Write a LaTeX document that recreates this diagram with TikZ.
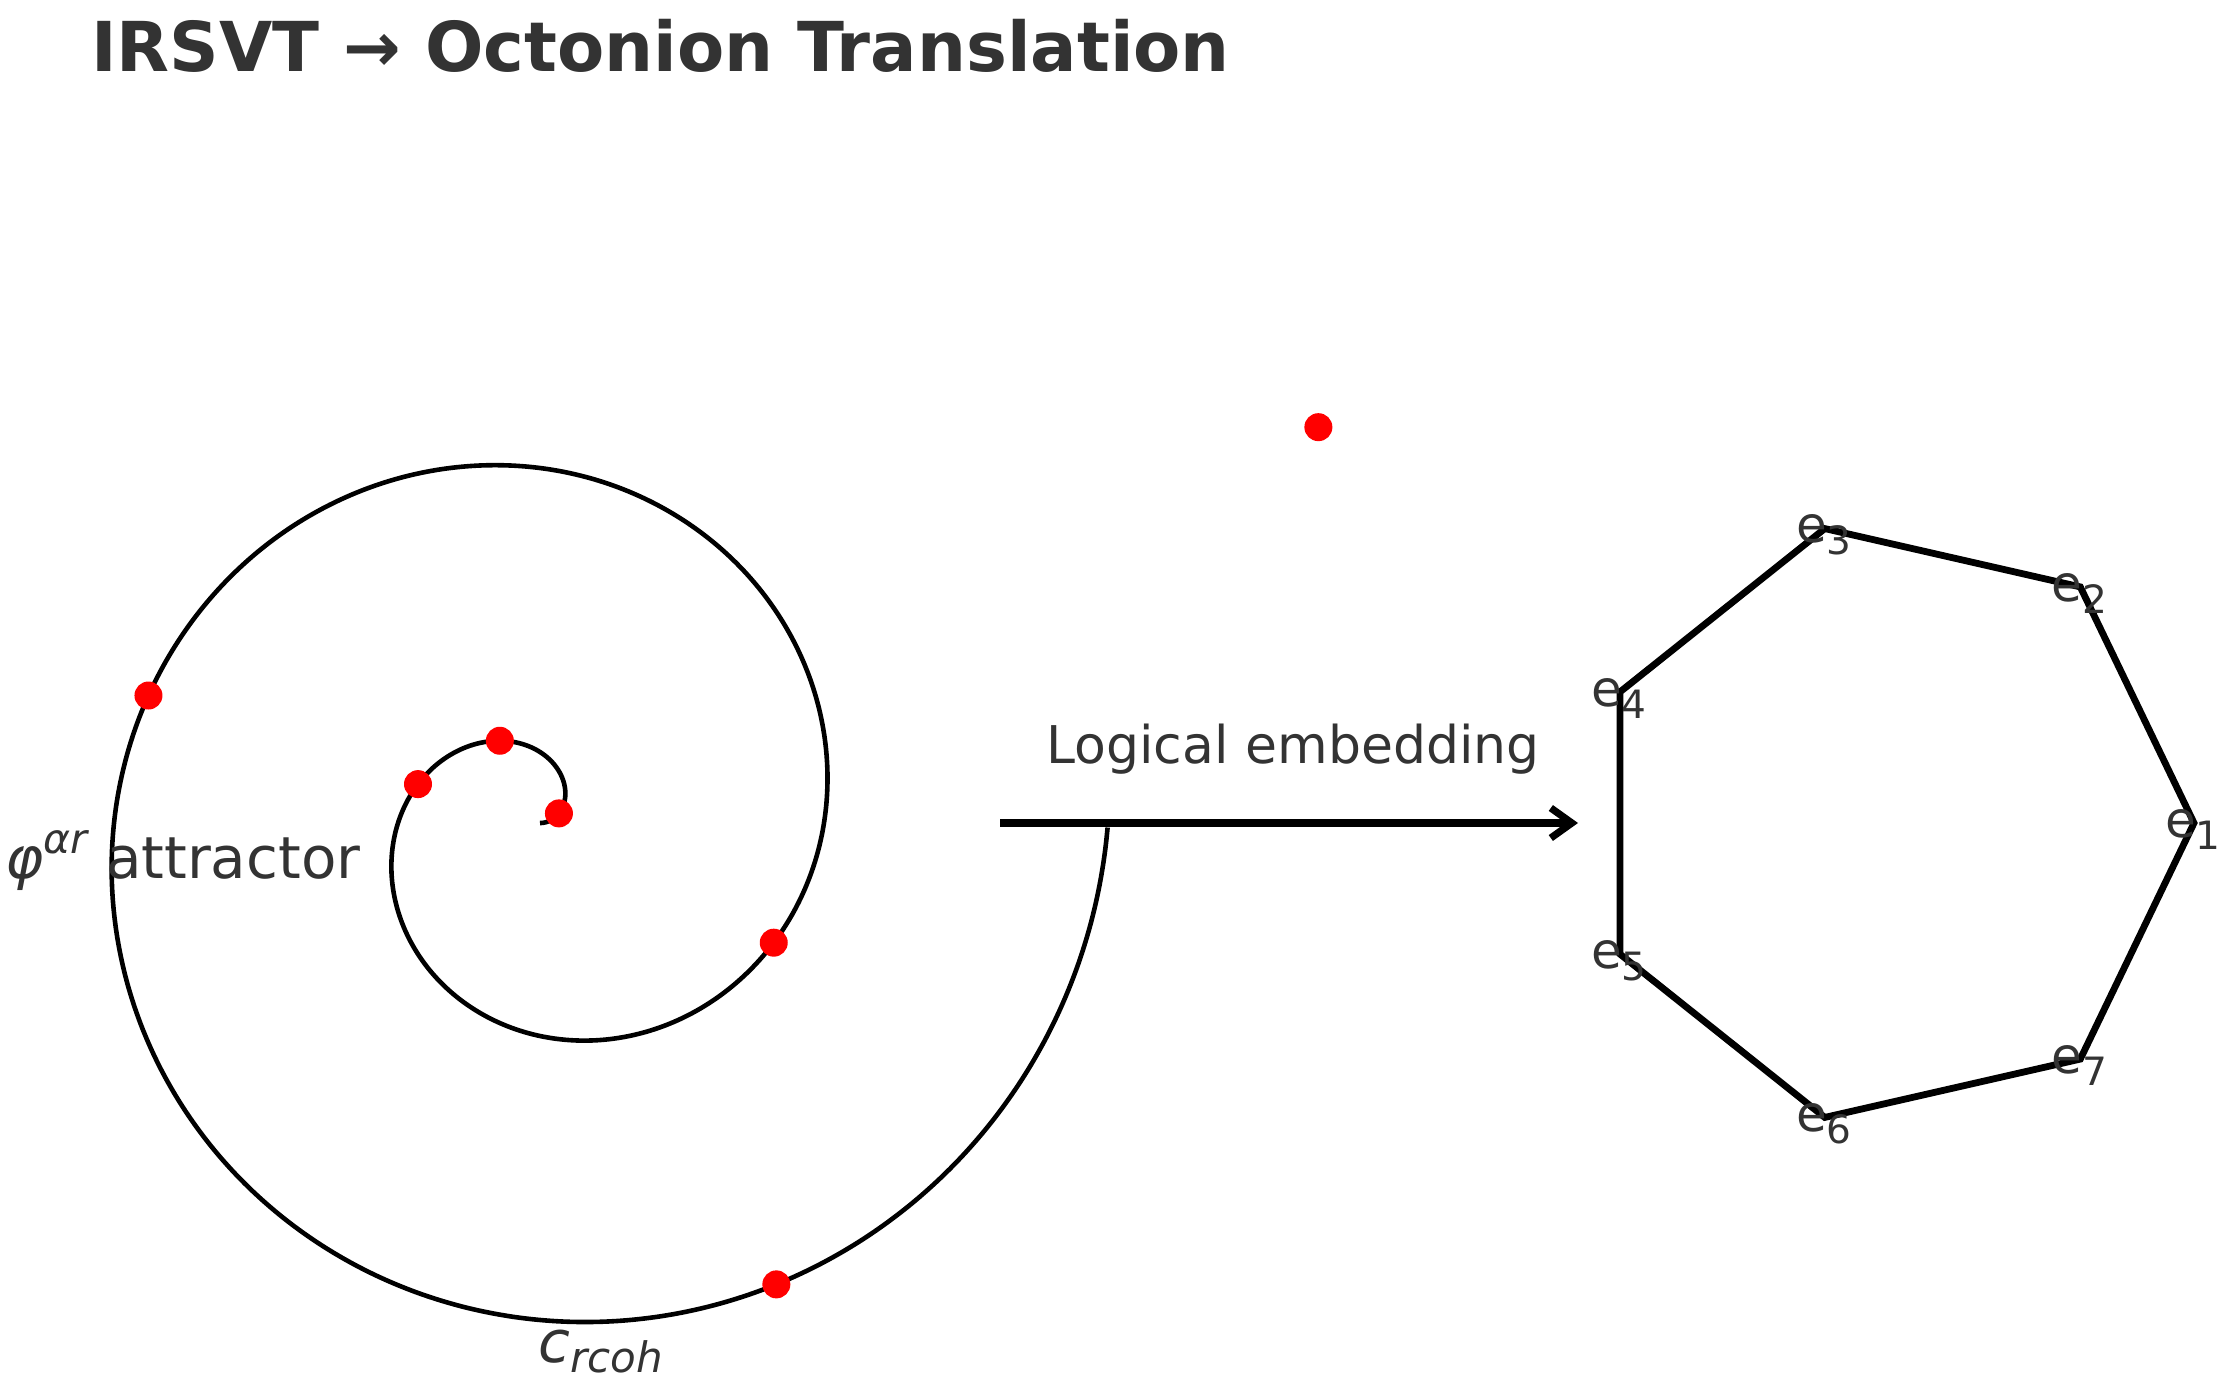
\documentclass[tikz,border=0pt]{standalone}
\usepackage{fontspec}
\setmainfont{DejaVu Sans}
\usetikzlibrary{arrows.meta}
\definecolor{txt}{HTML}{333333}
\begin{document}
\begin{tikzpicture}[x=0.5pt,y=-0.5pt,
  lbl/.style={text=txt, inner sep=0pt},
  elbl/.style={text=txt, inner sep=0pt, anchor=center, yshift=-3.2pt, xshift=-0.5pt, font=\fontsize{25}{30}\selectfont},
  dotmark/.style={fill=red},
  spiralline/.style={line width=2.3pt, line join=round},
  heptline/.style={line width=3.4pt},
  arrowline/.style={line width=3.6pt, -{Straight Barb[length=10.5pt,width=15pt]}}]
\useasboundingbox (0,0) rectangle (2240,1397);
% title
\node[lbl, anchor=base west, font=\fontsize{34.4}{41}\selectfont\bfseries] (title) at (91,71.5) {IRSVT → Octonion Translation};
% spiral
\draw[spiralline] plot[domain=0:12.5664, samples=600, smooth] ({540+45.2*\x*cos(\x r)},{823-45.2*\x*sin(\x r)});
% dots
\foreach \tv/\nm in {0.47/d1, 2.025/d2, 2.833/d3, 5.81/d4, 9.11/d5, 11.469/d6, 19.32/d7} {
  \coordinate (\nm) at ({540+45.2*\tv*cos(\tv r)},{823-45.2*\tv*sin(\tv r)});
  \fill[dotmark] (\nm) circle[radius=7pt];
}
% labels of spiral
\node[lbl, anchor=base, font=\fontsize{29}{35}\selectfont] (attr) at (183,878) {{\itshape φ}\raisebox{12.5pt}{\fontsize{20.5}{24}\selectfont\itshape αr} attractor};
\node[lbl, anchor=base, font=\fontsize{29}{35}\selectfont\itshape] (coh) at (601,1362) {c\raisebox{-5pt}{\fontsize{21}{25}\selectfont rcoh}};
% arrow
\coordinate (as) at (1000,823);
\coordinate (ae) at (1578,823);
\draw[arrowline] (as) -- (ae);
\node[lbl, anchor=base, font=\fontsize{26}{31}\selectfont] (emb) at (1293,763) {Logical embedding};
% heptagon
\foreach \i in {1,...,7} {
  \coordinate (v\i) at ({1892+302*cos((\i-1)*360/7)},{823-302*sin((\i-1)*360/7)});
}
\draw[heptline] (v1) -- (v2) -- (v3) -- (v4) -- (v5) -- (v6) -- (v7) -- cycle;
\foreach \i in {1,...,7} {
  \node[elbl] (e\i) at (v\i) {e\raisebox{-6pt}{\fontsize{19.5}{23}\selectfont \i}};
}
\end{tikzpicture}
\end{document}
